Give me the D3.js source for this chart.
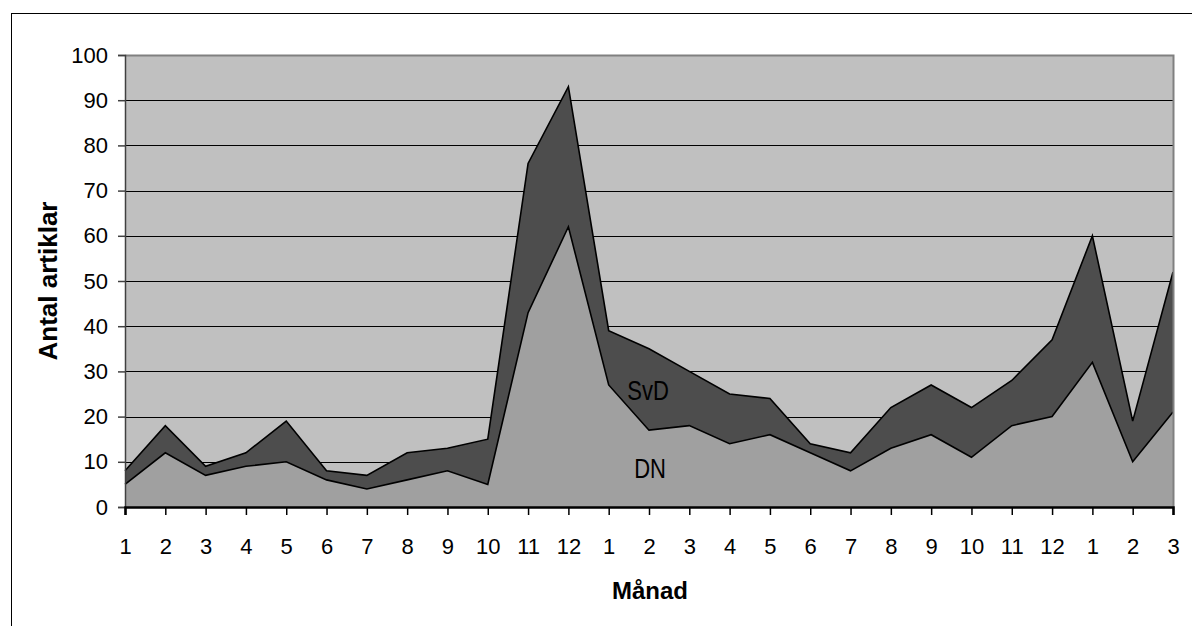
<!DOCTYPE html>
<html>
<head>
<meta charset="utf-8">
<script src="https://cdn.jsdelivr.net/npm/d3@7"></script>
<style>
  body { margin: 0; background: #fff; }
  svg { display: block; font-family: "Liberation Sans", Arial, sans-serif; }
</style>
</head>
<body>
<svg id="chart" width="1192" height="626"></svg>
<script>
// month labels along the x axis (Jan..Dec, Jan..Dec, Jan..Mar)
const months = [1,2,3,4,5,6,7,8,9,10,11,12,1,2,3,4,5,6,7,8,9,10,11,12,1,2,3];
// articles per month
const dnValues  = [5,12,7,9,10,6,4,6,8,5,43,62,27,17,18,14,16,12,8,13,16,11,18,20,32,10,21];
const svdValues = [3,6,2,3,9,2,3,6,5,10,33,31,12,18,12,11,8,2,4,9,11,11,10,17,28,9,31];
const yTicks = [0,10,20,30,40,50,60,70,80,90,100];

const svg = d3.select("#chart");
const plotL = 125, plotR = 1173, plotT = 55, plotB = 507;

// outer frame (runs off the right/bottom edge)
svg.append("rect")
    .attr("x", 11.5).attr("y", 13.5)
    .attr("width", 1300).attr("height", 700)
    .attr("fill", "none").attr("stroke", "#000").attr("stroke-width", 1);

const x = d3.scaleLinear().domain([0, months.length - 1]).range([plotL, plotR]);
const y = d3.scaleLinear().domain([0, 100]).range([plotB, plotT]);

// plot background
svg.append("rect")
    .attr("x", plotL).attr("y", plotT)
    .attr("width", plotR - plotL).attr("height", plotB - plotT)
    .attr("fill", "#c0c0c0");

// gridlines
svg.append("g").selectAll("line")
    .data(yTicks.filter(d => d > 0 && d < 100))
    .join("line")
    .attr("x1", plotL).attr("x2", plotR)
    .attr("y1", d => Math.round(y(d)) + 0.5).attr("y2", d => Math.round(y(d)) + 0.5)
    .attr("stroke", "#000").attr("stroke-width", 1);

// stacked areas
const rows = months.map((m, i) => ({ i: i, DN: dnValues[i], SvD: svdValues[i] }));
const stack = d3.stack().keys(["DN", "SvD"]);
const series = stack(rows);
const colors = { DN: "#a0a0a0", SvD: "#4d4d4d" };

const area = d3.area()
    .x(d => x(d.data.i))
    .y0(d => y(d[0]))
    .y1(d => y(d[1]));

svg.append("g").selectAll("path")
    .data(series)
    .join("path")
    .attr("d", area)
    .attr("fill", d => colors[d.key]);

// outline of each layer's top
const topLine = d3.line()
    .x(d => x(d.data.i))
    .y(d => y(d[1]));

svg.append("g").selectAll("path")
    .data(series)
    .join("path")
    .attr("d", topLine)
    .attr("fill", "none")
    .attr("stroke", "#000")
    .attr("stroke-width", 1.6)
    .attr("stroke-linejoin", "miter");

// plot border (top/right grey)
svg.append("path")
    .attr("d", `M${plotL},${plotT + 0.5}H${plotR + 0.5}V${plotB}`)
    .attr("fill", "none").attr("stroke", "#808080").attr("stroke-width", 2);

// y axis
const yAxis = d3.axisLeft(y).tickValues(yTicks).tickSize(7).tickPadding(10);
const gy = svg.append("g")
    .attr("transform", `translate(${plotL},0)`)
    .call(yAxis);
gy.select(".domain").attr("stroke", "#404040").attr("stroke-width", 1.5);
gy.selectAll(".tick line").attr("stroke", "#404040").attr("stroke-width", 1.5);
gy.selectAll(".tick text")
    .attr("fill", "#000")
    .style("font-size", "22px")
    .style("font-family", "Liberation Sans, Arial, sans-serif");

// x axis
const xAxis = d3.axisBottom(x)
    .tickValues(d3.range(months.length))
    .tickFormat(i => months[i])
    .tickSize(8)
    .tickPadding(23);
const gx = svg.append("g")
    .attr("transform", `translate(0,${plotB})`)
    .call(xAxis);
gx.select(".domain").attr("stroke", "#000").attr("stroke-width", 2.5);
gx.selectAll(".tick line").attr("stroke", "#000").attr("stroke-width", 1.5);
gx.selectAll(".tick text")
    .attr("fill", "#000")
    .style("font-size", "22px")
    .style("font-family", "Liberation Sans, Arial, sans-serif");

// series labels (slightly tall glyphs like the original)
svg.append("text")
    .attr("transform", "translate(648,400) scale(1,1.25)")
    .attr("text-anchor", "middle")
    .style("font-size", "22px")
    .text("SvD");
svg.append("text")
    .attr("transform", "translate(650,478) scale(1,1.25)")
    .attr("text-anchor", "middle")
    .style("font-size", "22px")
    .text("DN");

// axis titles
svg.append("text")
    .attr("x", 650).attr("y", 599)
    .attr("text-anchor", "middle")
    .style("font-size", "24px")
    .style("font-weight", "bold")
    .text("Månad");

svg.append("text")
    .attr("transform", "translate(57,281) rotate(-90)")
    .attr("text-anchor", "middle")
    .style("font-size", "26px")
    .style("font-weight", "bold")
    .text("Antal artiklar");
</script>
</body>
</html>
